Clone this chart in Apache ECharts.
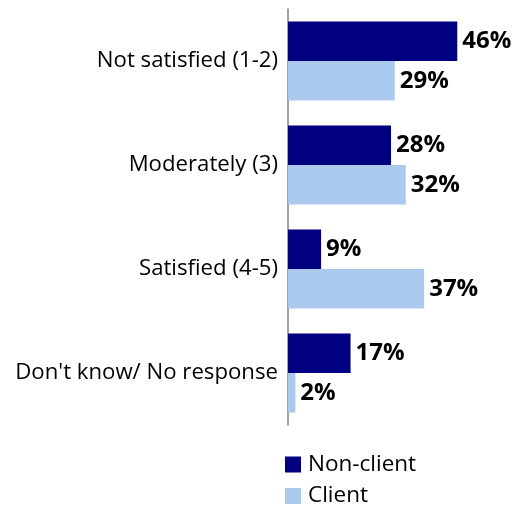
<!DOCTYPE html>
<html>
<head>
<meta charset="utf-8">
<script src="https://cdn.jsdelivr.net/npm/echarts@6/dist/echarts.min.js"></script>
<style>
  html, body { margin: 0; padding: 0; background: #ffffff; }
  #chart { width: 516px; height: 508px; }
</style>
</head>
<body>
<div id="chart"></div>
<script>
// Satisfaction ratings by respondent group (percent)
const categories = ['Not satisfied (1-2)', 'Moderately (3)', 'Satisfied (4-5)', "Don't know/ No response"];
const nonClient = [46, 28, 9, 17];
const client = [29, 32, 37, 2];
const seriesNames = ['Non-client', 'Client'];
const seriesColors = ['#000080', '#a9c9ee'];

const FONT = '"Open Sans", sans-serif';

const valueLabel = {
  show: true,
  position: 'right',
  distance: 5,
  formatter: p => p.value + '%',
  color: '#000000',
  fontFamily: FONT,
  fontWeight: 'bold',
  fontSize: 24
};

// one legend block per series, stacked under the bars
const legendTops = [453, 484.5];
const legends = seriesNames.map((name, i) => ({
  left: 285,
  top: legendTops[i],
  padding: 0,
  itemWidth: 16,
  itemHeight: 16,
  icon: 'rect',
  data: [name],
  selectedMode: false,
  textStyle: { fontFamily: FONT, fontSize: 22.5, color: '#000000', padding: [0, 0, 0, 2] }
}));

const chart = echarts.init(document.getElementById('chart'), null, { renderer: 'canvas' });
chart.setOption({
  animation: false,
  backgroundColor: '#ffffff',
  grid: { left: 288, top: 9, width: 184, height: 416, containLabel: false },
  xAxis: {
    type: 'value',
    min: 0,
    max: 50,
    show: false
  },
  yAxis: {
    type: 'category',
    data: categories,
    inverse: true,
    axisLine: { show: true, lineStyle: { color: '#808080', width: 1.5 } },
    axisTick: { show: false },
    axisLabel: {
      margin: 10,
      color: '#000000',
      fontFamily: FONT,
      fontSize: 22.2
    }
  },
  legend: legends,
  series: [nonClient, client].map((vals, i) => ({
    name: seriesNames[i],
    type: 'bar',
    data: vals,
    itemStyle: { color: seriesColors[i] },
    barWidth: 39.5,
    barGap: '0%',
    barCategoryGap: '24%',
    label: valueLabel
  }))
});
</script>
</body>
</html>
